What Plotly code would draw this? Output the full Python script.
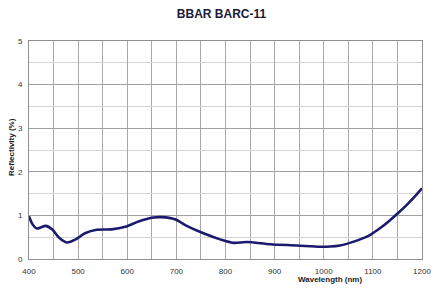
import plotly.graph_objects as go

wavelength = [400, 407, 416, 425, 434, 447, 462, 477, 495, 514, 538, 568, 596, 623, 653, 670, 697, 721, 755, 789, 816, 843, 891, 945, 993, 1013, 1033, 1053, 1074, 1094, 1115, 1135, 1152, 1169, 1185, 1200]
reflectivity = [0.98, 0.80, 0.70, 0.73, 0.76, 0.68, 0.48, 0.38, 0.45, 0.59, 0.67, 0.68, 0.74, 0.86, 0.95, 0.96, 0.91, 0.76, 0.59, 0.45, 0.37, 0.39, 0.34, 0.31, 0.28, 0.285, 0.31, 0.37, 0.45, 0.55, 0.71, 0.89, 1.06, 1.24, 1.43, 1.62]

fig = go.Figure()
fig.add_trace(go.Scatter(x=wavelength, y=reflectivity, mode="lines",
                         line=dict(color="#1c1a6e", width=2.6, shape="spline", smoothing=0.8),
                         hoverinfo="skip", showlegend=False))

fig.update_layout(
    width=443, height=299,
    margin=dict(l=29, r=21, t=41, b=40),
    paper_bgcolor="white", plot_bgcolor="white",
    title=dict(text="<b>BBAR BARC-11</b>", x=0.5, xanchor="center",
               yref="container", y=1 - 14/299, yanchor="middle",
               font=dict(family="Arial, Liberation Sans", size=12, color="#1a1a3a")),
    font=dict(family="Arial, Liberation Sans", size=8, color="#333333"),
)
fig.update_xaxes(range=[400, 1200], tickmode="linear", tick0=400, dtick=100,
                 showgrid=True, gridcolor="#a8a8a8", gridwidth=1,
                 minor=dict(dtick=50, showgrid=True, gridcolor="#a8a8a8", gridwidth=1),
                 showline=True, linecolor="#909090", linewidth=1, mirror=True,
                 zeroline=False, ticks="", ticklabelstandoff=4,
                 tickfont=dict(size=8, color="#333333"))
fig.update_yaxes(range=[0, 5], tickmode="linear", tick0=0, dtick=1,
                 showgrid=True, gridcolor="#a0a0a0", gridwidth=1,
                 minor=dict(dtick=0.5, showgrid=True, gridcolor="#d4d4d4", gridwidth=1),
                 showline=True, linecolor="#909090", linewidth=1, mirror=True,
                 zeroline=False, ticks="", ticklabelstandoff=4,
                 tickfont=dict(size=8, color="#333333"))

fig.add_annotation(text="<b>Wavelength (nm)</b>", xref="paper", yref="paper",
                   x=(330 - 29) / 393, y=(259 - 279) / 218, xanchor="center", yanchor="middle",
                   showarrow=False, font=dict(family="Arial, Liberation Sans", size=8, color="#1a1a1a"))
fig.add_annotation(text="<b>Reflectivity (%)</b>", xref="paper", yref="paper",
                   x=(11 - 29) / 393, y=(259 - 147) / 218, xanchor="center", yanchor="middle",
                   textangle=-90, showarrow=False,
                   font=dict(family="Arial, Liberation Sans", size=8, color="#1a1a1a"))

fig.write_html("out.html")
